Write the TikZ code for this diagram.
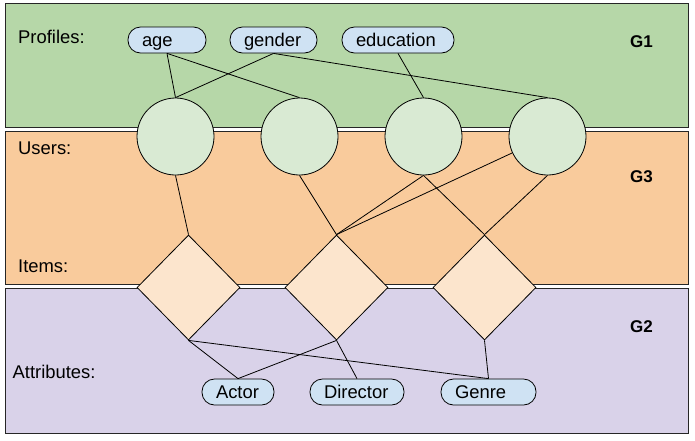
\documentclass[tikz,border=0pt]{standalone}
\usepackage{fontspec}
\setmainfont{Liberation Sans}
\usepackage{tikz}
\usepackage{color}
\usetikzlibrary{shapes.geometric}
\definecolor{profgreen}{HTML}{B6D7A8}
\definecolor{userorange}{HTML}{F9CB9C}
\definecolor{attrpurple}{HTML}{D9D2E9}
\definecolor{circgreen}{HTML}{D9EAD3}
\definecolor{diamorange}{HTML}{FCE5CD}
\definecolor{pillblue}{HTML}{CFE2F3}
\tikzstyle{panel} = [draw=black!85,line width=1pt]
\tikzstyle{user} = [circle,draw,fill=circgreen,minimum size=77pt,inner sep=0pt,line width=0.8pt]
\tikzstyle{item} = [diamond,draw,fill=diamorange,minimum width=103pt,minimum height=105pt,inner sep=0pt,line width=0.8pt]
\tikzstyle{pill} = [draw,fill=pillblue,rounded corners=12.5pt,minimum height=26pt,inner xsep=14pt,inner ysep=0pt,align=left,text height=16pt,text depth=2.6pt,line width=0.8pt]
\tikzstyle{rowname} = [anchor=base west,inner sep=0pt]
\tikzstyle{groupname} = [anchor=base west,inner sep=0pt,font=\fontsize{17}{19}\selectfont\bfseries]
\tikzstyle{link} = [line width=0.8pt]

\begin{document}
\begin{tikzpicture}[x=1pt,y=-1pt,font=\fontsize{18.4}{21}\selectfont]
\useasboundingbox (0,0) rectangle (695,440);

%three bands, white gap between them
\draw[panel,fill=profgreen] (5,3) rectangle (688,127);
\draw[panel,fill=userorange] (5,131) rectangle (688,284);
\draw[panel,fill=attrpurple] (5,288) rectangle (688,433);

\node[rowname] (lprof) at (18,43) {Profiles:};
\node[rowname] (luser) at (18,154) {Users:};
\node[rowname] (litem) at (18,272) {Items:};
\node[rowname] (lattr) at (12.5,378) {Attributes:};
\node[groupname] (g1) at (630,47) {G1};
\node[groupname] (g3) at (630,182) {G3};
\node[groupname] (g2) at (630,332) {G2};

%profile and attribute pills
\node[pill,text width=50pt] (age) at (167,40) {age};
\node[pill,text width=59pt] (gender) at (273.5,40) {gender};
\node[pill,text width=84pt] (education) at (398,40) {education};
\node[pill,text width=44pt] (actor) at (238,392) {Actor};
\node[pill,text width=66pt] (director) at (357,392) {Director};
\node[pill,text width=67pt] (genre) at (488.5,392) {Genre};

%users and items, equal spacing
\foreach \i in {1,...,4}
{
\node[user] (u\i) at (51.5+124*\i,136.5) {};
}
\foreach \i in {1,2,3}
{
\node[item] (i\i) at (40.5+148*\i,287.5) {};
}

%profiles - users
\draw[link] (age.south) -- (u1.north);
\draw[link] (age.south) -- (u2.north);
\draw[link] (gender.south) -- (u1.north);
\draw[link] (gender.south) -- (u4.north);
\draw[link] (education.south) -- (u3.north);

%users - items
\draw[link] (u1.south) -- (i1.north);
\draw[link] (u2.south) -- (i2.north);
\draw[link] (u3.south) -- (i2.north);
\draw[link] (u3.south) -- (i3.north);
\draw[link] (u4) -- (i2.north);
\draw[link] (u4.south) -- (i3.north);

%items - attributes
\draw[link] (i1.south) -- (actor.north);
\draw[link] (i1.south) -- (genre.north);
\draw[link] (i2.south) -- (actor.north);
\draw[link] (i2.south) -- (director.north);
\draw[link] (i3.south) -- (genre.north);

\end{tikzpicture}
\end{document}
